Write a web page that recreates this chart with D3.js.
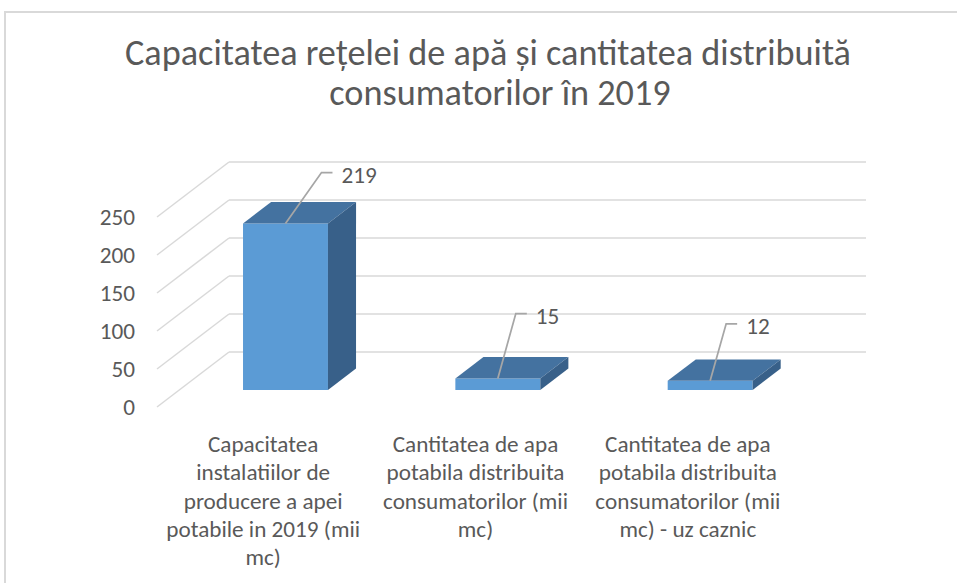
<!DOCTYPE html>
<html>
<head>
<meta charset="utf-8">
<script src="https://cdnjs.cloudflare.com/ajax/libs/d3/7.8.5/d3.min.js"></script>
<style>
    body { margin: 0; background: #fff; }
    text { font-family: Carlito, Lato, "Liberation Sans", sans-serif; fill: #595959; }
</style>
</head>
<body>
<div id="chartDiv"></div>
<script>
    // chart data
    var titleLines = ["Capacitatea rețelei de apă și cantitatea distribuită", "consumatorilor în 2019"];
    var categories = ["cap", "dist", "caznic"];
    var categoryLines = [
        ["Capacitatea", "instalatiilor de", "producere a apei", "potabile in 2019 (mii", "mc)"],
        ["Cantitatea de apa", "potabila distribuita", "consumatorilor (mii", "mc)"],
        ["Cantitatea de apa", "potabila distribuita", "consumatorilor (mii", "mc) - uz caznic"]
    ];
    var values = [219, 15, 12];
    var yTicks = [0, 50, 100, 150, 200, 250];

    // where the data labels were dragged to (offset from bar top, px)
    var labelOffsets = [[36, -51], [18, -65], [16, -57]];

    var W = 957, H = 583;
    var svg = d3.select('#chartDiv').append('svg').attr('width', W).attr('height', H);

    // chart border (cut off on the right and bottom in the screenshot)
    svg.append("rect")
        .attr("x", 5).attr("y", 12)
        .attr("width", 1000).attr("height", 1000)
        .attr("fill", "#fff")
        .attr("stroke", "#d9d9d9")
        .attr("stroke-width", 2);

    // fit font sizes to the measured widths
    var fitSize = function(str, target, start) {
        var t = svg.append("text").attr("font-size", start).text(str);
        var w = t.node().getComputedTextLength();
        t.remove();
        return start * target / w;
    };
    var bodySize = fitSize("potabila distribuita", 178, 20);
    var titleSize = fitSize(titleLines[0], 726, 30);

    // 3d projection: floor front edge at y0, depth vector (dx, dy)
    var y0 = 407, depthX = 72, depthY = -55;
    var x = d3.scaleBand().domain(categories).range([157, 157 + 637]).paddingInner(0.6).paddingOuter(0.3);
    var y = d3.scaleLinear().domain([0, 250]).range([0, 190]);
    var px = function(xf, d) { return xf + depthX * d; };
    var py = function(v, d) { return y0 - y(v) + depthY * d; };

    // gridlines: side wall + back wall
    var grid = svg.append("g").attr("class", "grid")
        .attr("stroke", "#d9d9d9").attr("stroke-width", 1.5).attr("fill", "none");
    grid.selectAll(".side").data(yTicks).enter().append("line")
        .attr("x1", px(157, 0)).attr("y1", function(d) { return py(d, 0); })
        .attr("x2", px(157, 1)).attr("y2", function(d) { return py(d, 1); });
    grid.selectAll(".back").data(yTicks).enter().append("line")
        .attr("x1", px(157, 1)).attr("y1", function(d) { return py(d, 1); })
        .attr("x2", px(157 + 637, 1)).attr("y2", function(d) { return py(d, 1); });

    // value axis labels
    svg.append("g").selectAll("text").data(yTicks).enter().append("text")
        .attr("x", 135)
        .attr("y", function(d) { return py(d, 0); })
        .attr("dy", "0.35em")
        .attr("text-anchor", "end")
        .attr("font-size", bodySize)
        .text(function(d) { return d; });

    // bars
    var dFront = 0.31, dBack = 0.70;
    var colFront = "#5b9bd5", colTop = "#4472a0", colSide = "#386089";
    var poly = function(pts) { return "M" + pts.map(function(p) { return p.join(","); }).join("L") + "Z"; };

    var bars = svg.append("g").selectAll("g").data(values).enter().append("g");
    bars.append("path")
        .attr("fill", colFront)
        .attr("d", function(d, i) {
            var x1 = x(categories[i]), x2 = x1 + x.bandwidth();
            return poly([[px(x1, dFront), py(0, dFront)], [px(x2, dFront), py(0, dFront)],
                         [px(x2, dFront), py(d, dFront)], [px(x1, dFront), py(d, dFront)]]);
        });
    bars.append("path")
        .attr("fill", colTop)
        .attr("d", function(d, i) {
            var x1 = x(categories[i]), x2 = x1 + x.bandwidth();
            return poly([[px(x1, dFront), py(d, dFront)], [px(x2, dFront), py(d, dFront)],
                         [px(x2, dBack), py(d, dBack)], [px(x1, dBack), py(d, dBack)]]);
        });
    bars.append("path")
        .attr("fill", colSide)
        .attr("d", function(d, i) {
            var x2 = x(categories[i]) + x.bandwidth();
            return poly([[px(x2, dFront), py(0, dFront)], [px(x2, dBack), py(0, dBack)],
                         [px(x2, dBack), py(d, dBack)], [px(x2, dFront), py(d, dFront)]]);
        });

    // data labels with leader lines
    var labels = svg.append("g").selectAll("g").data(values).enter().append("g");
    labels.append("path")
        .attr("fill", "none").attr("stroke", "#a6a6a6").attr("stroke-width", 1.75)
        .attr("d", function(d, i) {
            var sx = px(x(categories[i]) + x.bandwidth() / 2, dFront), sy = py(d, dFront);
            var ex = sx + labelOffsets[i][0], ey = sy + labelOffsets[i][1];
            return "M" + sx + "," + sy + "L" + ex + "," + ey + "L" + (ex + 11) + "," + ey;
        });
    labels.append("text")
        .attr("x", function(d, i) { return px(x(categories[i]) + x.bandwidth() / 2, dFront) + labelOffsets[i][0] + 20; })
        .attr("y", function(d, i) { return py(d, dFront) + labelOffsets[i][1] + 2; })
        .attr("dy", "0.35em")
        .attr("font-size", bodySize)
        .text(function(d) { return d; });

    // category labels
    var cats = svg.append("g").selectAll("text").data(categories).enter().append("text")
        .attr("text-anchor", "middle")
        .attr("font-size", bodySize);
    cats.selectAll("tspan")
        .data(function(d, i) { return categoryLines[i]; })
        .enter().append("tspan")
        .attr("x", function() { var c = d3.select(this.parentNode).datum(); return x(c) + x.bandwidth() / 2; })
        .attr("y", function(d, j) { return 452 + j * 28.3; })
        .text(function(d) { return d; });

    // title
    svg.append("g").selectAll("text").data(titleLines).enter().append("text")
        .attr("x", function(d, i) { return i == 0 ? 488 : 500; })
        .attr("y", function(d, i) { return 65 + i * 40; })
        .attr("text-anchor", "middle")
        .attr("font-size", titleSize)
        .text(function(d) { return d; });
</script>
</body>
</html>
